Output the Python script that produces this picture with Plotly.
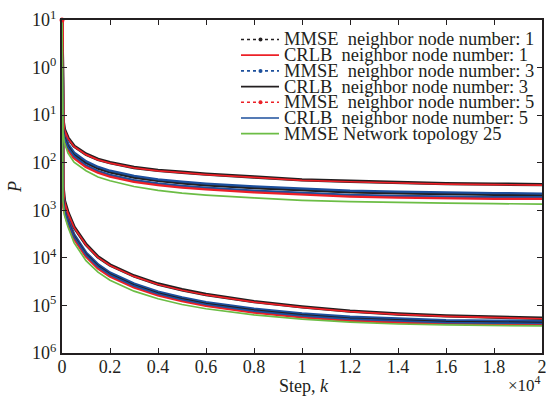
import plotly.graph_objects as go

# Step index k
steps = [0, 40, 100, 250, 500, 1000, 1500, 2000, 3000, 4000, 5000, 6000,
         8000, 10000, 12000, 14000, 16000, 18000, 20000]

# log10(P) values, upper family of curves
up_mmse1 = [1, -1.10, -1.30, -1.48, -1.65, -1.82, -1.93, -2.00, -2.10, -2.16, -2.20, -2.24, -2.30, -2.36, -2.39, -2.42, -2.44, -2.45, -2.46]
up_crlb1 = [1, -1.11, -1.31, -1.49, -1.66, -1.83, -1.94, -2.01, -2.11, -2.17, -2.21, -2.25, -2.31, -2.37, -2.40, -2.43, -2.45, -2.46, -2.47]
up_mmse3 = [1, -1.20, -1.42, -1.62, -1.80, -1.98, -2.10, -2.18, -2.29, -2.36, -2.41, -2.45, -2.51, -2.56, -2.60, -2.62, -2.64, -2.65, -2.66]
up_crlb3 = [1, -1.23, -1.45, -1.65, -1.83, -2.01, -2.13, -2.21, -2.32, -2.39, -2.44, -2.48, -2.54, -2.59, -2.63, -2.65, -2.67, -2.68, -2.69]
up_mmse5 = [1, -1.28, -1.50, -1.71, -1.89, -2.08, -2.20, -2.28, -2.39, -2.46, -2.51, -2.55, -2.61, -2.66, -2.70, -2.72, -2.74, -2.75, -2.75]
up_crlb5 = [1, -1.26, -1.48, -1.68, -1.86, -2.05, -2.17, -2.25, -2.36, -2.43, -2.48, -2.52, -2.58, -2.63, -2.67, -2.69, -2.71, -2.72, -2.72]
up_net25 = [1, -1.35, -1.58, -1.80, -1.99, -2.17, -2.30, -2.38, -2.50, -2.58, -2.64, -2.68, -2.74, -2.79, -2.82, -2.84, -2.85, -2.86, -2.87]

# log10(P) values, lower family of curves
lo_mmse1 = [1, -2.50, -2.80, -3.05, -3.35, -3.72, -3.98, -4.15, -4.38, -4.55, -4.67, -4.77, -4.92, -5.03, -5.12, -5.18, -5.22, -5.25, -5.27]
lo_crlb1 = [1, -2.51, -2.81, -3.06, -3.36, -3.73, -3.99, -4.16, -4.39, -4.56, -4.68, -4.78, -4.93, -5.04, -5.13, -5.19, -5.23, -5.26, -5.28]
lo_mmse3 = [1, -2.65, -2.95, -3.20, -3.52, -3.90, -4.15, -4.32, -4.55, -4.72, -4.84, -4.94, -5.08, -5.18, -5.25, -5.29, -5.32, -5.33, -5.34]
lo_crlb3 = [1, -2.67, -2.97, -3.22, -3.54, -3.92, -4.17, -4.34, -4.57, -4.74, -4.86, -4.96, -5.10, -5.20, -5.27, -5.31, -5.34, -5.35, -5.36]
lo_mmse5 = [1, -2.71, -3.01, -3.26, -3.58, -3.96, -4.21, -4.38, -4.61, -4.78, -4.90, -5.00, -5.14, -5.24, -5.31, -5.35, -5.37, -5.38, -5.39]
lo_crlb5 = [1, -2.69, -2.99, -3.24, -3.56, -3.94, -4.19, -4.36, -4.59, -4.76, -4.88, -4.98, -5.12, -5.22, -5.29, -5.33, -5.36, -5.37, -5.38]
lo_net25 = [1, -2.80, -3.10, -3.35, -3.68, -4.06, -4.30, -4.47, -4.70, -4.86, -4.98, -5.07, -5.20, -5.29, -5.35, -5.39, -5.41, -5.42, -5.43]

names = ["MMSE  neighbor node number: 1", "CRLB  neighbor node number: 1",
         "MMSE  neighbor node number: 3", "CRLB  neighbor node number: 3",
         "MMSE  neighbor node number: 5", "CRLB  neighbor node number: 5",
         "MMSE Network topology 25"]
upper = [up_mmse1, up_crlb1, up_mmse3, up_crlb3, up_mmse5, up_crlb5, up_net25]
lower = [lo_mmse1, lo_crlb1, lo_mmse3, lo_crlb3, lo_mmse5, lo_crlb5, lo_net25]

x_tickvals = [0, 2000, 4000, 6000, 8000, 10000, 12000, 14000, 16000, 18000, 20000]
x_ticktext = ["0", "0.2", "0.4", "0.6", "0.8", "1", "1.2", "1.4", "1.6", "1.8", "2"]
y_tickvals = [1e1, 1e0, 1e-1, 1e-2, 1e-3, 1e-4, 1e-5, 1e-6]
y_ticktext = ["10<sup>1</sup>", "10<sup>0</sup>", "10<sup>1</sup>", "10<sup>2</sup>",
              "10<sup>3</sup>", "10<sup>4</sup>", "10<sup>5</sup>", "10<sup>6</sup>"]

BLACK = "#231f20"
RED = "#ec2027"
BLUE = "#1c4f9c"
GREEN = "#6cbd45"
colors = [BLACK, RED, BLUE, BLACK, RED, BLUE, GREEN]
is_mmse = [True, False, True, False, True, False, False]

fig = go.Figure()
order = [0, 2, 4, 1, 3, 5, 6]
for i in order:
    for series in (upper[i], lower[i]):
        fig.add_trace(go.Scatter(
            x=steps, y=[10 ** v for v in series], mode="lines",
            name=names[i], showlegend=False, hoverinfo="skip",
            line=dict(color=colors[i], width=3.4 if is_mmse[i] else 1.7),
        ))

fig.add_trace(go.Scatter(x=[steps[0]], y=[10 ** up_mmse5[0]], mode="markers",
                         marker=dict(color=RED, size=5), showlegend=False,
                         hoverinfo="skip", cliponaxis=False))

font_family = "Liberation Serif, Times New Roman, serif"
W, H = 546, 396
L, R, T, B = 62, 4, 20, 43
PL, PT = L, T
pw, ph = W - L - R, H - T - B


def px_x(px):
    return (px - PL) / pw


def px_y(py):
    return 1 - (py - PT) / ph


leg_y0, leg_dy = 39.5, 15.7
for n, name in enumerate(names):
    yy = px_y(leg_y0 + n * leg_dy)
    if is_mmse[n]:
        fig.add_shape(type="line", xref="paper", yref="paper",
                      x0=px_x(241), x1=px_x(279), y0=yy, y1=yy,
                      line=dict(color=colors[n], width=1.6, dash="dot"))
        fig.add_shape(type="circle", xref="paper", yref="paper",
                      x0=px_x(258.5), x1=px_x(262.5),
                      y0=yy - 2 / ph, y1=yy + 2 / ph,
                      fillcolor=colors[n], line=dict(width=0))
    else:
        fig.add_shape(type="line", xref="paper", yref="paper",
                      x0=px_x(241), x1=px_x(279), y0=yy, y1=yy,
                      line=dict(color=colors[n], width=1.7))
    fig.add_annotation(text=name, xref="paper", yref="paper",
                       x=px_x(282), y=yy, xanchor="left", yanchor="middle",
                       showarrow=False, font=dict(size=18.5, family=font_family,
                                                  color=BLACK))

fig.update_layout(
    width=W, height=H,
    margin=dict(l=L, r=R, t=T, b=B),
    paper_bgcolor="white", plot_bgcolor="white",
    font=dict(family=font_family, size=18, color=BLACK),
    showlegend=False,
    xaxis=dict(range=[0, 20000], tickvals=x_tickvals, ticktext=x_ticktext,
               ticks="inside", ticklen=5, tickcolor=BLACK, mirror="ticks",
               showline=True, linecolor=BLACK, linewidth=2, showgrid=False,
               zeroline=False, tickfont=dict(size=18), automargin=False,
               ticklabeloverflow="allow", ticklabelstandoff=-4),
    yaxis=dict(type="log", range=[-6, 1], tickvals=y_tickvals, ticktext=y_ticktext,
               ticks="inside", ticklen=5, tickcolor=BLACK, mirror="ticks",
               showline=True, linecolor=BLACK, linewidth=2, showgrid=False,
               zeroline=False, tickfont=dict(size=18), automargin=False,
               ticklabeloverflow="allow"),
)
fig.add_annotation(text="Step, <i>k</i>", xref="paper", yref="paper",
                   x=px_x(304), y=px_y(386), xanchor="center", yanchor="middle",
                   showarrow=False, font=dict(size=18, family=font_family))
fig.add_annotation(text="×10<sup>4</sup>", xref="paper", yref="paper",
                   x=px_x(543), y=px_y(384), xanchor="right", yanchor="middle",
                   showarrow=False, font=dict(size=17, family=font_family))
fig.add_annotation(text="<i>P</i>", xref="paper", yref="paper",
                   x=px_x(15), y=px_y(187), xanchor="center", yanchor="middle",
                   textangle=-90, showarrow=False,
                   font=dict(size=18, family=font_family))
fig.write_html("out.html", config={"displayModeBar": False},
               post_script="document.body.style.margin='0';"
                           "document.body.style.overflow='hidden';")
